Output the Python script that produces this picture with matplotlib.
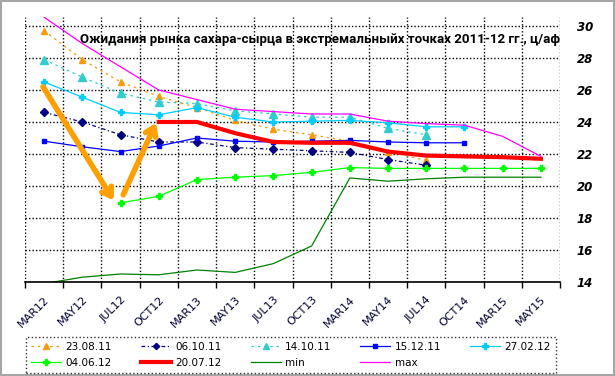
import numpy as np
import matplotlib
matplotlib.use("Agg")
import matplotlib.pyplot as plt
from matplotlib.patches import Rectangle

nan = np.nan

cats = ['MAR12', 'MAY12', 'JUL12', 'OCT12', 'MAR13', 'MAY13', 'JUL13',
        'OCT13', 'MAR14', 'MAY14', 'JUL14', 'OCT14', 'MAR15', 'MAY15']

s_230811 = [29.7, 27.9, 26.5, 25.6, 24.9, 24.1, 23.55, 23.2, 22.8, 22.15, 21.6, nan, nan, nan]
s_061011 = [24.6, 24.0, 23.2, 22.75, 22.75, 22.4, 22.3, 22.2, 22.1, 21.65, 21.3, nan, nan, nan]
s_141011 = [27.9, 26.8, 25.8, 25.25, 25.15, 24.7, 24.5, 24.3, 24.3, 23.6, 23.2, nan, nan, nan]
s_151211 = [22.8, 22.45, 22.15, 22.5, 23.0, 22.8, 22.75, 22.8, 22.85, 22.75, 22.7, 22.7, nan, nan]
s_270212 = [26.5, 25.55, 24.6, 24.45, 24.9, 24.3, 24.0, 24.05, 24.1, 23.95, 23.7, 23.7, nan, nan]
s_040612 = [nan, nan, 18.95, 19.35, 20.4, 20.55, 20.65, 20.85, 21.15, 21.1, 21.1, 21.1, 21.1, 21.1]
s_200712 = [nan, nan, nan, 24.0, 24.0, 23.3, 22.75, 22.7, 22.7, 22.15, 21.9, 21.85, 21.8, 21.7]
s_min = [13.9, 14.3, 14.5, 14.45, 14.75, 14.6, 15.15, 16.25, 20.5, 20.3, 20.45, 20.55, 20.55, 20.55]
s_max = [30.55, 28.9, 27.45, 26.0, 25.4, 24.8, 24.65, 24.5, 24.5, 24.05, 23.9, 23.8, 23.1, 21.85]

title = "Ожидания рынка сахара-сырца в экстремальныйх точках 2011-12 гг., ц/аф"

x = np.arange(len(cats))

fig = plt.figure(figsize=(6.15, 3.76), dpi=100)
ax = fig.add_axes([25 / 615, 1 - 282 / 376, 535 / 615, (282 - 16.7) / 376])

h = {}
h['23.08.11'], = ax.plot(x, s_230811, color='#F79A0E', lw=0.9, ls=(0, (2, 3)),
                         marker='^', ms=5, mec='#F79A0E')
h['06.10.11'], = ax.plot(x, s_061011, color='#000080', lw=0.9, ls=(0, (3, 2, 1, 2)),
                         marker='D', ms=4)
h['14.10.11'], = ax.plot(x, s_141011, color='#33CCCC', lw=0.9, ls=(0, (2, 3)),
                         marker='^', ms=6)
h['15.12.11'], = ax.plot(x, s_151211, color='#0000FF', lw=0.9, marker='s', ms=3.5)
h['27.02.12'], = ax.plot(x, s_270212, color='#00CCFF', lw=0.9, marker='P', ms=5)
h['04.06.12'], = ax.plot(x, s_040612, color='#00FF00', lw=0.9, marker='P', ms=5)
h['20.07.12'], = ax.plot(x, s_200712, color='#FF0000', lw=3)
h['min'], = ax.plot(x, s_min, color='#008000', lw=0.9)
h['max'], = ax.plot(x, s_max, color='#FF00FF', lw=0.9)

# orange arrows
arr = dict(arrowstyle='->,head_length=0.6,head_width=0.4', lw=4, color='#FFA000',
           shrinkA=0, shrinkB=0)
ax.annotate('', xy=(1.82, 19.1), xytext=(-0.03, 26.2), arrowprops=arr, zorder=10)
ax.annotate('', xy=(2.93, 23.95), xytext=(2.07, 19.45), arrowprops=arr, zorder=10)

ax.set_xlim(-0.5, 13.5)
ax.set_ylim(14, 30.58)

ax.set_xticks(np.arange(-0.5, 14, 1))
ax.set_xticklabels([])
ax.set_xticks(x, minor=True)
ax.set_xticklabels(cats, minor=True, rotation=45, ha='right', va='top',
                   rotation_mode='anchor', fontsize=8, color='#000033')
ax.tick_params(axis='x', which='major', length=4, width=1, direction='out')
ax.tick_params(axis='x', which='minor', length=0, pad=9)

ax.yaxis.tick_right()
ax.set_yticks(np.arange(14, 31, 2))
ax.tick_params(axis='y', length=0, pad=12)
for t in ax.get_yticklabels():
    t.set_fontsize(8.5)
    t.set_fontweight('bold')
    t.set_fontstyle('italic')

ax.grid(True, which='major', color='black', lw=1, ls=(0, (1, 1.5)))
ax.set_axisbelow(True)
for s in ['top', 'left', 'right']:
    ax.spines[s].set_visible(False)
ax.spines['bottom'].set_linewidth(1.2)

fig.text(320 / 615, 1 - 40 / 376, title, ha='center', va='center',
         fontsize=9.5, fontweight='bold', family=['Roboto', 'DejaVu Sans'])

order = ['23.08.11', '04.06.12', '06.10.11', '20.07.12', '14.10.11', 'min',
         '15.12.11', 'max', '27.02.12']
leg = fig.legend([h[k] for k in order], order, ncol=5, loc='lower left',
                 bbox_to_anchor=(26 / 615, 1 - 373.3 / 376, 530 / 615, 40.6 / 376),
                 mode='expand', fontsize=7.5, handlelength=2.9, handletextpad=0.4,
                 borderaxespad=0, fancybox=False, labelspacing=0.6,
                 borderpad=0.5, markerscale=0.8)
leg.get_frame().set_edgecolor('black')
leg.get_frame().set_linestyle(':')
leg.get_frame().set_linewidth(1)

fig.patches.append(Rectangle((0.001, 0.002), 0.997, 0.996, transform=fig.transFigure,
                             fill=False, edgecolor='#A6A6A6', lw=1.5))

fig.savefig('out.png', dpi=100)
